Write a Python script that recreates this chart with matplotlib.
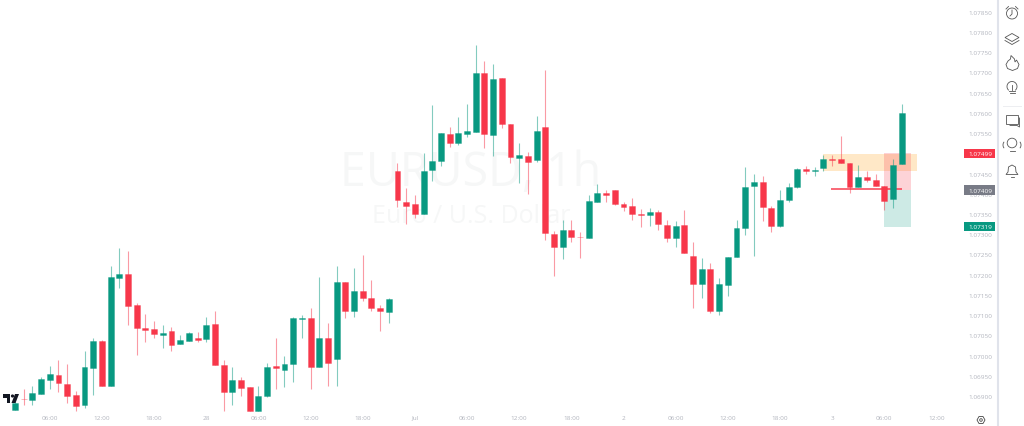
import matplotlib
matplotlib.use("Agg")
import matplotlib.pyplot as plt
from matplotlib.patches import Circle, Polygon, Rectangle, Arc
from matplotlib.colors import to_rgba

plt.rcParams['font.family'] = ['Open Sans', 'DejaVu Sans']

# hourly candles, prices in 1e-5 units
opens = [106865,106893,106891,106905,106941,106952,106930,106903,106878,106970,107036,106925,107193,107202,107126,107069,107065,107052,107061,107029,107036,107044,
         107041,107078,106978,106911,106941,106922,106864,106900,106975,106965,106979,107091,107093,106973,107044,106992,107182,107110,107160,107142,107118,107109,
         107455,107379,107374,107350,107458,107481,107548,107525,107548,107552,107698,107545,107685,107573,107488,107493,107483,107564,107301,107268,107311,107294,
         107291,107380,107403,107409,107375,107369,107351,107347,107355,107324,107291,107322,107246,107178,107213,107110,107175,107243,107315,107418,107428,107366,
         107321,107384,107417,107461,107457,107464,107486,107486,107476,107417,107442,107434,107420,107387,107473]
highs = [106898,106918,106926,106947,106975,106990,106979,106912,107012,107044,107039,107221,107266,107258,107130,107103,107085,107077,107072,107051,107059,107058,
         107095,107111,106989,106971,106947,106922,106924,106981,107044,106999,107096,107101,107119,107194,107080,107221,107182,107216,107248,107186,107125,107142,
         107475,107414,107398,107501,107619,107550,107565,107589,107622,107767,107728,107720,107685,107573,107525,107504,107592,107705,107308,107335,107336,107305,
         107397,107425,107409,107409,107379,107390,107362,107364,107359,107335,107333,107361,107282,107242,107230,107191,107245,107336,107466,107449,107443,107370,
         107409,107427,107463,107468,107465,107495,107496,107543,107476,107471,107456,107448,107420,107485,107621]
lows = [106865,106879,106879,106905,106919,106911,106883,106864,106871,106904,106925,106925,107168,107076,107002,107034,107043,107020,107012,107029,107036,107033,
        107034,106976,106864,106879,106900,106864,106864,106897,106918,106923,106934,107044,106918,106973,106926,106926,107093,107096,107136,107111,107060,107080,
        107368,107325,107339,107350,107432,107469,107515,107521,107541,107552,107513,107494,107562,107476,107427,107399,107479,107286,107196,107240,107282,107241,
        107291,107380,107380,107373,107358,107336,107319,107321,107310,107282,107268,107254,107118,107142,107105,107101,107147,107243,107299,107247,107332,107306,
        107318,107380,107414,107449,107444,107457,107468,107475,107402,107417,107428,107419,107361,107365,107473]
closes = [106884,106892,106908,106942,106956,106932,106901,106877,106971,107036,106925,107194,107202,107123,107068,107063,107053,107057,107026,107038,107055,107040,
          107076,106976,106911,106941,106921,106864,106901,106971,106970,106979,107092,107092,106971,107044,106982,107181,107110,107160,107142,107117,107110,107140,
          107385,107370,107349,107457,107482,107549,107525,107550,107555,107698,107548,107683,107572,107491,107496,107478,107554,107303,107268,107311,107293,107293,
          107381,107403,107398,107375,107368,107351,107348,107355,107325,107291,107320,107254,107177,107213,107110,107176,107243,107315,107417,107428,107368,107321,
          107384,107417,107460,107457,107459,107487,107484,107475,107417,107442,107433,107419,107382,107472,107599]

price_ticks = [1.069,1.0695,1.07,1.0705,1.071,1.0715,1.072,1.0725,1.073,1.0735,1.074,1.0745,1.075,1.0755,1.076,1.0765,1.077,1.0775,1.078,1.0785]
time_ticks = [4,10,16,22,28,34,40,46,52,58,64,70,76,82,88,94,100,106]
time_labels = ['06:00','12:00','18:00','28','06:00','12:00','18:00','Jul','06:00','12:00','18:00','2','06:00','12:00','18:00','3','06:00','12:00']

stop_price = 1.07499
entry_price = 1.07409
target_price = 1.07319
zone_low = 1.07456
line_price = 1.07412

GREEN = '#089981'
RED = '#F7374A'
GREY = '#B2B5BE'
ICON = '#555555'

fig = plt.figure(figsize=(10.24, 4.27), dpi=100, facecolor='white')
ax = fig.add_axes([0, 14/427, 962/1024, 413/427])
ax.set_xlim(-1.7256, 108.94)
ax.set_ylim(1.06861, 1.07881)
for s in ax.spines.values():
    s.set_visible(False)

# watermark
ax.text(0.4895, 0.58, 'EURUSD, 1h', transform=ax.transAxes, fontsize=33.5, color='#F6F7F7', ha='center', va='center', zorder=0)
ax.text(0.4895, 0.475, 'Euro / U.S. Dollar', transform=ax.transAxes, fontsize=18, color='#F6F7F7', ha='center', va='center', zorder=0)

# position tool zones
ax.fill_between([93, 103.8], zone_low, stop_price, color='#FF9800', alpha=0.22, lw=0, zorder=1)
ax.fill_between([100, 103.05], entry_price, stop_price + 0.00002, color=RED, alpha=0.22, lw=0, zorder=1)
ax.fill_between([100, 103.05], target_price, entry_price, color=GREEN, alpha=0.2, lw=0, zorder=1)
ax.plot([93.9, 102], [line_price, line_price], color=RED, alpha=0.75, lw=1.4, zorder=2, solid_capstyle='butt')

xs = list(range(len(opens)))
for i in xs:
    o, h, l, c = opens[i]/1e5, highs[i]/1e5, lows[i]/1e5, closes[i]/1e5
    col = GREEN if c >= o else RED
    ax.vlines(i, l, h, color=col, alpha=0.5, lw=0.8, zorder=3)
    ax.bar(i, abs(c-o), bottom=min(o, c), width=0.68, color=col,
           edgecolor=to_rgba(col, 0.35), linewidth=0.7, zorder=4)

ax.set_xticks(time_ticks)
ax.set_xticklabels(time_labels)
ax.set_yticks(price_ticks)
ax.set_yticklabels(['%.5f' % p for p in price_ticks])
ax.yaxis.tick_right()
ax.tick_params(axis='x', length=0, pad=2, labelsize=4.6, labelcolor=GREY)
ax.tick_params(axis='y', length=0, pad=21.6, labelsize=4.6, labelcolor=GREY)
for t in ax.get_yticklabels():
    t.set_ha('right')

# price labels on the scale
tr = ax.get_yaxis_transform()
for price, col in [(stop_price, RED), (entry_price, '#787B86'), (target_price, GREEN)]:
    ax.add_patch(Rectangle((1.0024, price - 0.000115), 0.0322, 0.00023, transform=tr, fc=col, ec='none',
                           clip_on=False, zorder=9))
    ax.text(1.0312, price, '%.5f' % price, transform=tr, fontsize=4.6, color='white',
            ha='right', va='center', clip_on=False, zorder=10)

# side toolbar and logo, drawn in pixels
ov = fig.add_axes([0, 0, 1, 1], facecolor='none')
ov.set_xlim(0, 1024)
ov.set_ylim(427, 0)
ov.axis('off')
ov.plot([998, 998], [0, 427], color='#E0E3EB', lw=1.5)
ov.plot([1003, 1021], [106.5, 106.5], color='#EDEEF1', lw=0.7)

lw = 0.6
kw = dict(color=ICON, lw=lw)
# clock
ov.add_patch(Circle((1012, 14.5), 5.5, fill=False, ec=ICON, lw=lw))
ov.plot([1012, 1012, 1010], [11, 15, 17], **kw)
ov.plot([1006, 1008.5], [10, 7.5], **kw)
ov.plot([1018, 1015.5], [10, 7.5], **kw)
# layers
ov.add_patch(Polygon([(1012, 34.5), (1019, 38.5), (1012, 42.5), (1005, 38.5)], fill=False, ec=ICON, lw=lw))
ov.plot([1005, 1012, 1019], [41.5, 45.5, 41.5], **kw)
# flame
ov.add_patch(Polygon([(1011, 56.5), (1014.5, 60), (1015, 63), (1016.5, 61), (1019, 65.5), (1017.5, 69.5), (1012.5, 71.5), (1007.5, 69.5), (1006, 65.5), (1008, 62), (1010.5, 60)],
                     fill=False, ec=ICON, lw=lw))
# bulb
ov.add_patch(Arc((1012, 87.5), 10, 10, theta1=130, theta2=50, ec=ICON, lw=lw))
ov.plot([1008.8, 1015.2], [91.5, 91.5], **kw)
ov.plot([1009.5, 1014.5], [94, 94], **kw)
ov.plot([1012, 1012], [86, 91], **kw)
# chat
ov.add_patch(Polygon([(1006, 116), (1018, 116), (1018, 125), (1006, 125)], fill=False, ec=ICON, lw=lw))
ov.plot([1019.5, 1019.5, 1017, 1010], [119, 128, 126.5, 126.5], **kw)
# bulb with waves
ov.add_patch(Circle((1012, 144), 4.8, fill=False, ec=ICON, lw=lw))
ov.plot([1009.5, 1014.5], [152, 152], **kw)
ov.add_patch(Arc((1006, 146), 6, 8, theta1=120, theta2=240, ec=ICON, lw=lw))
ov.add_patch(Arc((1018, 146), 6, 8, theta1=-60, theta2=60, ec=ICON, lw=lw))
# bell
ov.add_patch(Polygon([(1012, 166), (1015.5, 168), (1016, 173), (1018, 175.5), (1006, 175.5), (1008, 173), (1008.5, 168)],
                     fill=False, ec=ICON, lw=lw))
ov.plot([1010.5, 1013.5], [177.5, 177.5], **kw)
# settings
ov.add_patch(Polygon([(977, 421), (979, 417.5), (983, 417.5), (985, 421), (983, 424.5), (979, 424.5)], fill=False, ec='#444444', lw=lw))
ov.add_patch(Circle((981, 421), 1.3, fill=False, ec='#444444', lw=lw))
# logo
ov.add_patch(Polygon([(3, 395), (10, 395), (10, 404), (6.5, 404), (6.5, 398.5), (3, 398.5)], fc='#131722', ec='none'))
ov.add_patch(Circle((12.5, 397), 1.6, fc='#131722', ec='none'))
ov.add_patch(Polygon([(15, 395), (19, 395), (15.5, 404), (11.5, 404)], fc='#131722', ec='none'))

fig.savefig('out.png', dpi=100)
